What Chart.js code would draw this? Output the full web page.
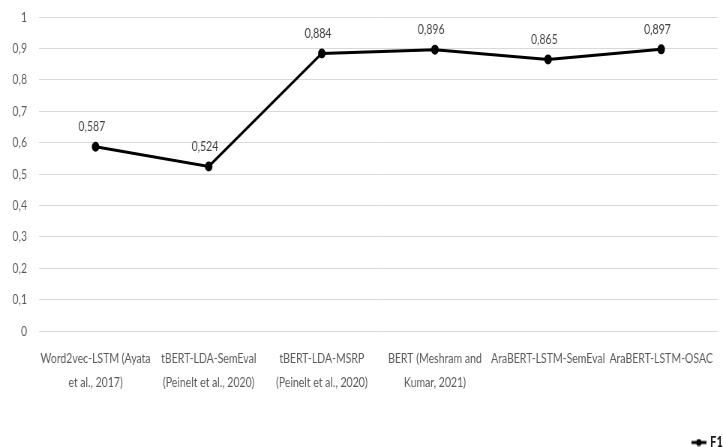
<!DOCTYPE html>
<html>
<head>
<meta charset="utf-8">
<script src="https://cdn.jsdelivr.net/npm/chart.js@4/dist/chart.umd.min.js"></script>
<style>
  html, body { margin:0; padding:0; background:#fff; overflow:hidden; }
  /* le graphique d'origine est comprimé horizontalement : on dessine plus large puis on resserre */
  #wrap { width:964px; height:447px; transform:scaleX(0.75); transform-origin:0 0; }
</style>
</head>
<body>
<div id="wrap"><canvas id="chart"></canvas></div>
<script>
// données du graphique
const models = [
  ['Word2vec-LSTM (Ayata', 'et al., 2017)'],
  ['tBERT-LDA-SemEval', '(Peinelt et al., 2020)'],
  ['tBERT-LDA-MSRP', '(Peinelt et al., 2020)'],
  ['BERT (Meshram and', 'Kumar, 2021)'],
  ['AraBERT-LSTM-SemEval'],
  ['AraBERT-LSTM-OSAC']
];
const f1Scores = [0.587, 0.524, 0.884, 0.896, 0.865, 0.897];
const seriesName = 'F1';

const FONT = "Lato, 'Liberation Sans', sans-serif";
const fmt = v => String(v).replace('.', ',');

// petit symbole de légende : trait + point
const legendIcon = document.createElement('canvas');
legendIcon.width = 20; legendIcon.height = 8;
(ctx => {
  ctx.strokeStyle = '#000'; ctx.lineWidth = 3;
  ctx.beginPath(); ctx.moveTo(0, 4); ctx.lineTo(20, 4); ctx.stroke();
  ctx.fillStyle = '#000';
  ctx.beginPath(); ctx.arc(10, 4, 3.5, 0, Math.PI * 2); ctx.fill();
})(legendIcon.getContext('2d'));

// étiquettes de valeurs au-dessus des points
const valueLabels = {
  id: 'valueLabels',
  afterDatasetsDraw(chart) {
    const ctx = chart.ctx;
    const meta = chart.getDatasetMeta(0);
    ctx.save();
    ctx.font = '14px ' + FONT;
    ctx.fillStyle = '#404040';
    ctx.textAlign = 'center';
    ctx.textBaseline = 'middle';
    meta.data.forEach((pt, i) => {
      ctx.fillText(fmt(f1Scores[i]), pt.x - 5, pt.y - 20);
    });
    ctx.restore();
  }
};

new Chart(document.getElementById('chart'), {
  type: 'line',
  data: {
    labels: models,
    datasets: [{
      label: seriesName,
      data: f1Scores,
      borderColor: '#000',
      backgroundColor: '#000',
      borderWidth: 3,
      pointRadius: 3.5,
      pointBackgroundColor: '#000',
      pointBorderColor: '#000',
      tension: 0
    }]
  },
  options: {
    responsive: true,
    maintainAspectRatio: false,
    animation: false,
    layout: { padding: { top: 17, right: 0, left: 0, bottom: -13 } },
    plugins: {
      legend: {
        position: 'bottom',
        align: 'end',
        labels: {
          font: { family: FONT, size: 15, weight: 'bold' },
          color: '#1a1a1a',
          usePointStyle: true,
          pointStyle: legendIcon,
          padding: 0,
          boxWidth: 20
        }
      },
      tooltip: { enabled: false }
    },
    scales: {
      x: {
        offset: true,
        grid: { display: false },
        border: { display: false },
        ticks: { font: { family: FONT, size: 14, lineHeight: 1.72 }, color: '#595959', maxRotation: 0, autoSkip: false, padding: 7 },
        afterFit: s => { s.height = 104; s.paddingLeft = 0; s.paddingRight = 0; }
      },
      y: {
        min: 0, max: 1,
        grid: { color: '#d9d9d9', drawTicks: false },
        border: { display: false },
        ticks: { stepSize: 0.1, font: { family: FONT, size: 14 }, color: '#595959', padding: 16, callback: v => fmt(Math.round(v * 10) / 10) },
        afterFit: s => { s.width = 52; s.paddingTop = 0; s.paddingBottom = 0; }
      }
    }
  },
  plugins: [valueLabels]
});
</script>
</body>
</html>
